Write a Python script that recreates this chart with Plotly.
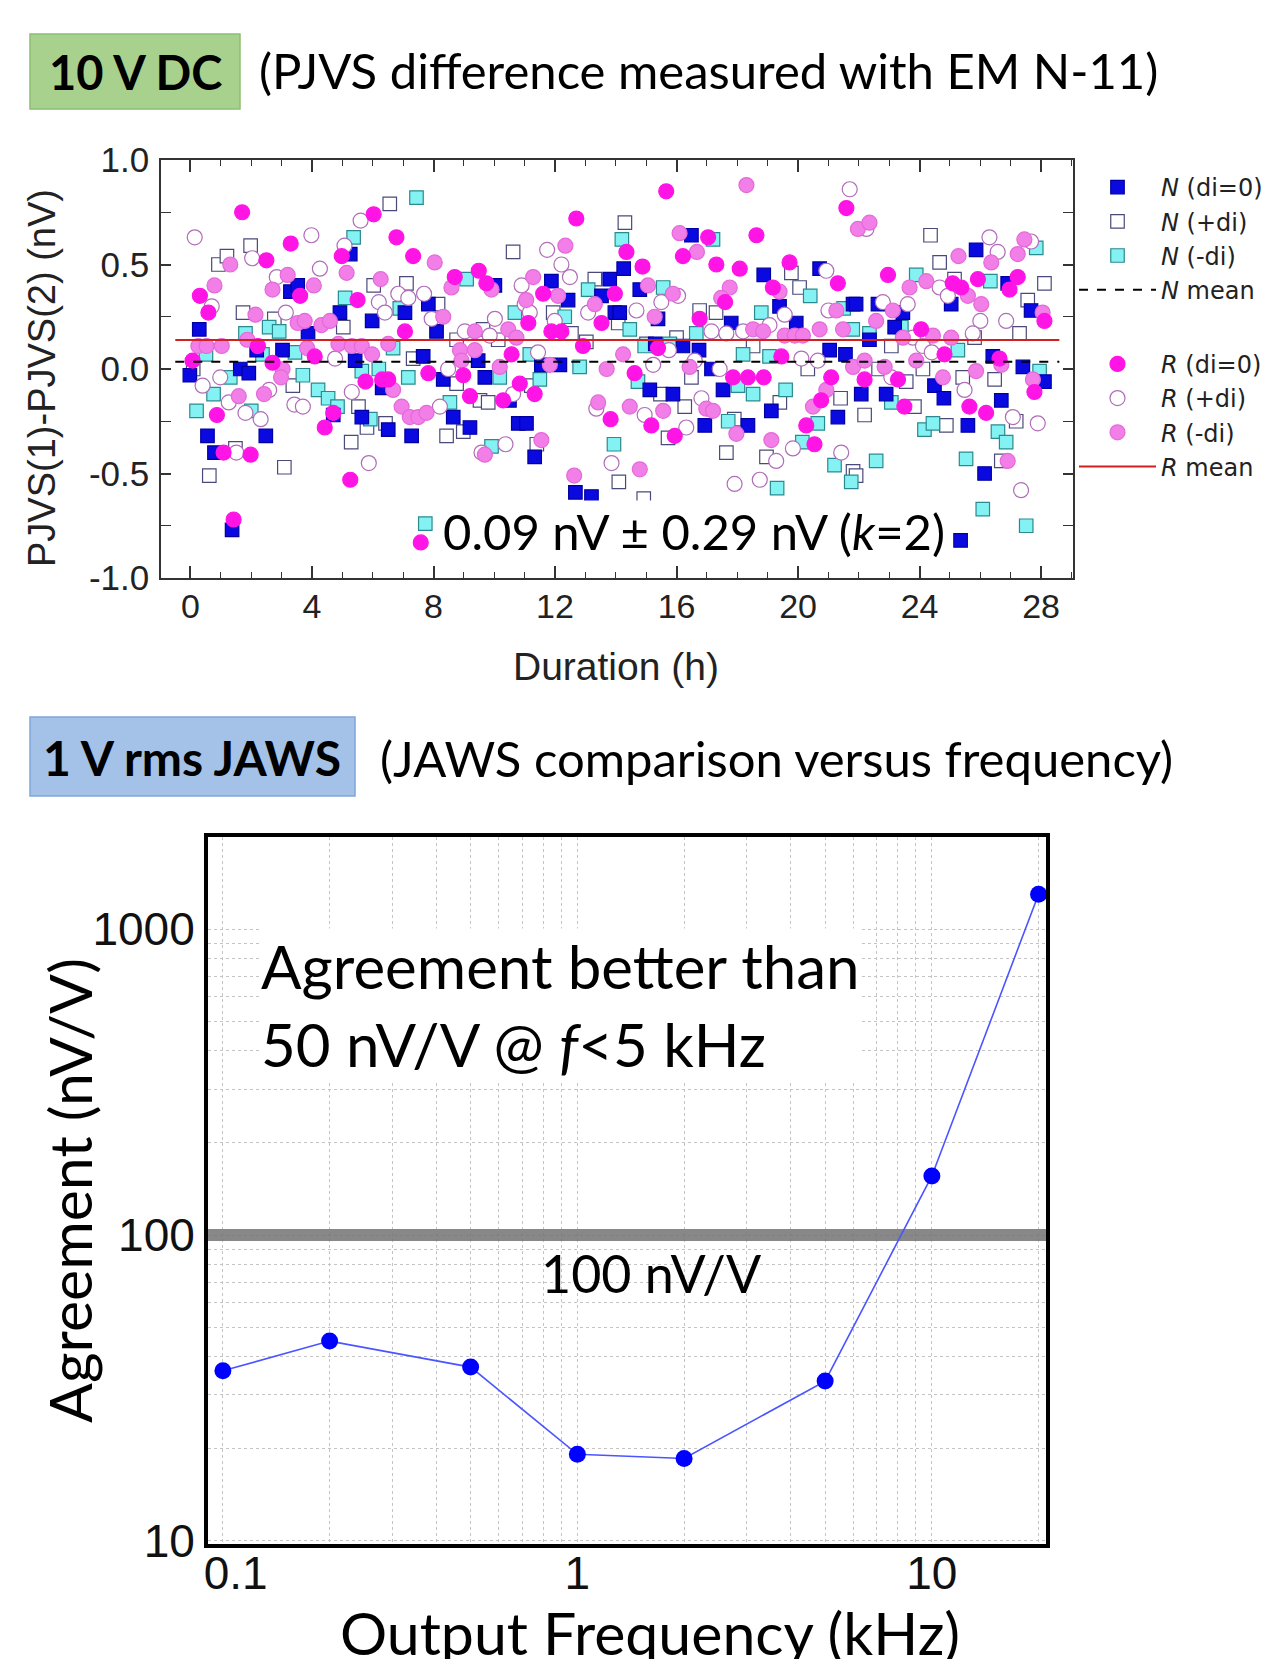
import plotly.graph_objects as go

W, H = 1269, 1659

# ---------------- Top chart data (Duration h, difference nV) ----------------
N0_X = [0.29, 3.29, 3.53, 3.87, 4.92, 5.98, 5.26, 2.18, 3.03, -0.02, 1.64, 1.92, 5.42, 6.31, 4.7, 5.64, 0.56, 0.79, 2.48, 1.37,
        11.88, 7.83, 7.06, 8.1, 12.43, 10.02, 7.66, 9.47, 8.32, 9.69, 11.55, 12.16, 8.65, 6.51, 7.28, 9.2, 10.79, 11.06, 11.33, 12.67, 13.2, 13.8, 13.53, 13.97, 10.5,
        16.49, 14.26, 18.87, 20.71, 14.79, 14.13, 19.39, 15.39, 17.8, 19.94, 21.81, 16.21, 16.74, 21.04, 21.56, 17.15, 17.53, 15.12, 15.88, 19.12, 16.93, 18.35, 21.31, 15.3,
        25.86, 26.9, 21.91, 22.63, 25.04, 23.45, 23.18, 27.67, 22.35, 26.41, 27.4, 28.11, 24.49, 22.08, 22.9, 24.8, 26.69, 25.59, 26.14, 25.35]
N0_Y = [0.19, 0.37, 0.40, 0.17, 0.27, 0.23, 0.55, 0.09, 0.09, -0.03, 0.0, -0.02, 0.04, -0.09, -0.22, -0.23, -0.32, -0.40, -0.32, -0.77,
        0.42, 0.31, 0.27, 0.18, 0.33, 0.40, 0.06, 0.04, -0.05, -0.04, 0.02, 0.02, -0.23, -0.29, -0.32, -0.28, -0.26, -0.26, -0.42, -0.59, -0.61, 0.43, 0.35, 0.27, -0.15,
        0.64, 0.48, 0.45, 0.48, 0.38, 0.27, 0.30, 0.24, 0.22, 0.22, 0.31, 0.11, 0.09, 0.09, 0.07, 0.0, -0.10, -0.10, -0.12, -0.20, -0.27, -0.27, -0.23, 0.12,
        0.57, 0.41, 0.31, 0.31, 0.31, 0.27, 0.20, 0.28, 0.14, 0.06, 0.01, -0.06, -0.08, -0.12, -0.12, -0.14, -0.15, -0.27, -0.50, -0.82]

NP_X = [0.92, 1.2, 1.98, 6.03, 1.73, 2.76, 5.03, 0.09, 3.37, 5.53, 6.42, 5.81, 1.48, 0.62, 3.09, 5.29,
        6.56, 10.62, 7.11, 8.15, 11.94, 9.63, 10.13, 8.76, 12.54, 13.03, 7.33, 8.76, 11.22, 9.53, 9.8, 8.43, 8.98, 11.4, 14.1, 14.08, 14.3, 13.31,
        19.78, 20.05, 16.76, 15.01, 16.0, 18.52, 20.32, 16.49, 15.47, 16.27, 15.72, 17.64, 18.96, 21.81, 14.92, 17.9, 19.4, 21.4, 17.3,
        24.36, 24.66, 25.15, 28.11, 27.56, 23.07, 25.81, 27.29, 22.65, 23.56, 24.11, 25.42, 26.47, 23.83, 22.19, 27.18, 24.88, 26.69, 21.91]
NP_Y = [0.50, 0.54, 0.59, 0.40, 0.27, 0.24, 0.20, 0.0, -0.08, -0.18, -0.26, -0.28, -0.38, -0.51, -0.47, -0.35,
        0.79, 0.56, 0.41, 0.31, 0.27, 0.19, 0.14, 0.14, 0.17, 0.13, 0.05, -0.07, -0.08, -0.15, -0.16, -0.32, -0.30, -0.36, -0.54, 0.22, 0.70, 0.43,
        0.46, 0.39, 0.28, 0.12, 0.15, 0.11, 0.0, -0.04, -0.12, -0.18, -0.33, -0.40, -0.42, -0.49, -0.62, -0.24, -0.16, -0.14, 0.27,
        0.64, 0.51, 0.43, 0.41, 0.33, 0.11, 0.15, 0.17, 0.0, -0.06, 0.0, -0.04, -0.05, -0.18, -0.22, -0.25, -0.27, -0.44, -0.51]

NM_X = [5.37, 5.09, 2.59, 2.92, 1.81, 0.51, 2.37, 3.44, 1.31, 3.7, 0.76, 4.2, 4.53, 4.84, 5.64, 6.2, 5.92, 0.2, 2.0,
        7.44, 9.09, 6.89, 6.67, 10.68, 12.32, 11.17, 7.17, 10.18, 11.5, 12.81, 8.54, 9.91, 13.94, 14.2, 13.09, 7.73,
        15.56, 20.4, 18.79, 14.46, 16.65, 15.78, 14.95, 18.19, 19.06, 14.73, 18.02, 18.52, 19.59, 17.7, 20.65, 20.14, 21.2, 21.75, 19.31, 21.5, 21.8, 17.2,
        23.89, 26.33, 27.84, 23.4, 25.26, 22.35, 27.95, 23.07, 24.16, 24.44, 26.58, 26.85, 22.57, 25.53, 26.08, 27.51]
NM_Y = [0.63, 0.34, 0.20, 0.18, 0.17, 0.07, 0.07, 0.08, -0.04, -0.03, -0.12, -0.10, -0.14, -0.18, -0.01, 0.0, -0.24, -0.20, -0.20,
        0.82, 0.43, 0.29, 0.10, 0.27, 0.25, 0.07, -0.04, -0.04, -0.05, 0.01, -0.16, -0.37, -0.36, 0.62, 0.38, -0.74,
        0.39, 0.35, 0.27, 0.19, 0.17, 0.12, 0.11, 0.07, 0.06, -0.06, -0.08, -0.12, -0.10, -0.25, -0.26, -0.35, -0.46, -0.54, -0.57, 0.29, 0.19, 0.62,
        0.45, 0.42, 0.58, 0.20, 0.09, 0.17, -0.01, -0.16, -0.29, -0.26, -0.30, -0.35, -0.44, -0.43, -0.67, -0.75]

R0_X = [1.7, 3.3, 2.5, 0.31, 0.59, 3.61, 6.03, 4.98, 5.5, 2.22, 4.09, 0.07, 2.7, 5.76, 6.31, 0.87, 4.7, 4.42, 1.09, 1.98, 5.26, 1.42,
        6.78, 7.33, 9.49, 9.74, 8.7, 12.7, 11.61, 11.12, 11.88, 12.21, 7.06, 10.57, 12.92, 7.83, 8.98, 10.84, 6.51, 9.2, 10.29, 11.33, 13.83, 13.53, 13.97, 7.58,
        15.66, 14.35, 17.04, 16.21, 18.63, 17.31, 18.08, 14.88, 19.72, 21.31, 21.59, 17.6, 19.17, 16.76, 15.39, 19.45, 14.62, 17.86, 18.35, 18.87, 21.09, 20.76, 15.17, 20.27, 15.94, 20.54,
        22.96, 25.92, 27.23, 25.09, 25.37, 26.96, 28.11, 24.05, 24.82, 26.63, 22.19, 23.29, 27.78, 23.5, 25.64, 26.19]
R0_Y = [0.75, 0.60, 0.52, 0.35, 0.27, 0.35, 0.74, 0.54, 0.33, 0.11, 0.06, 0.04, 0.03, -0.06, -0.05, -0.22, -0.21, -0.28, -0.40, -0.41, -0.53, -0.72,
        0.63, 0.54, 0.47, 0.41, 0.44, 0.72, 0.36, 0.22, 0.18, 0.18, 0.18, 0.07, 0.11, -0.02, -0.03, -0.07, -0.05, -0.13, -0.15, -0.12, -0.24, 0.22, 0.36, -0.83,
        0.85, 0.56, 0.63, 0.54, 0.64, 0.50, 0.48, 0.49, 0.51, 0.41, 0.77, 0.32, 0.39, 0.24, 0.10, 0.06, -0.02, -0.04, -0.04, -0.04, -0.04, -0.15, -0.27, -0.27, -0.32, -0.36,
        0.45, 0.43, 0.44, 0.41, 0.39, 0.38, 0.23, 0.19, 0.07, 0.05, -0.05, -0.05, -0.11, -0.18, -0.18, -0.21]

RP_X = [0.14, 2.03, 3.98, 2.84, 4.26, 0.7, 5.6, 5.07, 6.2, 3.14, 6.4, 4.76, 0.4, 0.98, 2.59, 5.31, 1.26, 1.81, 2.31, 3.42, 3.7, 1.51, 5.87,
        11.74, 12.21, 12.49, 10.9, 6.84, 7.17, 7.69, 7.94, 11.0, 11.17, 11.99, 10.02, 9.03, 9.85, 11.44, 8.48, 10.62, 8.21, 9.58, 10.37, 13.36, 13.86, 13.09,
        21.7, 20.93, 16.05, 15.5, 14.68, 19.56, 17.15, 17.64, 18.19, 19.06, 21.0, 15.75, 20.11, 20.65, 15.23, 16.6, 17.42, 16.82, 14.95, 16.32, 19.83, 19.28, 21.42, 17.91, 18.74,
        22.25, 26.3, 27.67, 26.57, 24.66, 24.93, 22.79, 23.61, 26.0, 26.85, 23.78, 24.11, 24.4, 25.75, 23.07, 25.48, 27.07, 27.89, 27.34]
RP_Y = [0.63, 0.53, 0.64, 0.44, 0.48, 0.30, 0.71, 0.59, 0.32, 0.27, 0.27, 0.05, -0.08, -0.04, -0.10, -0.11, -0.16, -0.21, -0.24, -0.17, -0.18, -0.40, -0.45,
        0.57, 0.50, 0.44, 0.40, 0.36, 0.34, 0.36, 0.24, 0.31, 0.27, 0.23, 0.24, 0.18, 0.16, 0.08, 0.0, -0.12, -0.18, -0.40, -0.36, -0.19, -0.45, 0.27,
        0.86, 0.47, 0.35, 0.32, 0.28, 0.26, 0.18, 0.17, 0.18, 0.21, 0.28, 0.09, 0.05, 0.04, 0.02, 0.04, 0.0, -0.14, -0.22, -0.28, -0.38, -0.44, -0.40, -0.55, -0.53,
        0.67, 0.63, 0.61, 0.56, 0.39, 0.35, 0.32, 0.31, 0.23, 0.23, 0.15, 0.11, 0.08, 0.17, -0.04, -0.10, -0.23, -0.26, -0.58]

RM_X = [1.31, 3.2, 0.79, 2.7, 4.06, 5.14, 6.26, 2.14, 3.53, 3.76, 4.31, 4.59, 1.87, 0.26, 0.53, 1.03, 3.84, 4.87, 5.31, 5.64, 5.98, 3.03, 2.98, 1.59, 2.42,
        8.04, 9.91, 8.59, 12.34, 11.28, 8.32, 6.51, 12.1, 9.36, 10.46, 10.73, 8.87, 13.31, 9.36, 8.92, 10.18, 11.83, 6.67, 6.95, 7.22, 7.5, 7.77, 9.69, 11.55, 13.42, 12.63, 13.7, 11.05,
        18.3, 16.1, 16.67, 15.06, 15.88, 17.75, 17.47, 19.39, 15.28, 18.52, 18.85, 19.56, 19.89, 20.16, 20.71, 21.48, 21.26, 14.24, 16.43, 20.93, 20.49, 16.98, 17.2, 14.46, 15.56, 17.97, 19.12, 14.79, 21.81, 21.97,
        22.35, 27.45, 27.23, 25.28, 26.36, 23.67, 24.22, 25.59, 26.03, 23.12, 22.57, 28.05, 24.44, 23.45, 25.04, 26.69, 27.73, 22.19, 22.85, 23.89, 25.86, 24.77, 26.9]
RM_Y = [0.50, 0.45, 0.40, 0.38, 0.40, 0.46, 0.43, 0.26, 0.22, 0.23, 0.21, 0.23, 0.14, 0.11, 0.11, 0.11, 0.10, 0.12, 0.11, 0.11, 0.07, 0.0, -0.04, -0.13, -0.12,
        0.51, 0.38, 0.39, 0.59, 0.44, 0.25, 0.12, 0.35, 0.18, 0.19, 0.15, 0.09, 0.31, 0.09, 0.04, 0.01, 0.02, -0.10, -0.18, -0.23, -0.23, -0.21, -0.41, -0.34, -0.16, -0.51, 0.0, 0.33,
        0.88, 0.65, 0.56, 0.40, 0.36, 0.39, 0.34, 0.37, 0.25, 0.19, 0.18, 0.16, 0.16, 0.16, 0.19, 0.19, 0.28, 0.07, 0.01, -0.10, -0.18, -0.19, -0.20, -0.18, -0.20, -0.31, -0.34, -0.48, 0.01, 0.67,
        0.70, 0.62, 0.55, 0.54, 0.51, 0.39, 0.42, 0.35, 0.31, 0.28, 0.23, 0.27, 0.16, 0.15, 0.15, 0.02, -0.05, 0.04, 0.01, 0.04, -0.01, -0.04, -0.44]

N_MEAN = 0.035
R_MEAN = 0.139
MEAN_SPAN_H = [-0.5, 28.6]

TOP_X_RANGE = [-0.97, 29.05]
TOP_Y_RANGE = [-1.0, 1.0]
TOP_Y_TICKVALS = [-1.0, -0.5, 0.0, 0.5, 1.0]
TOP_Y_TICKTEXT = ["-1.0", "-0.5", "0.0", "0.5", "1.0"]

# ---------------- Bottom chart data ----------------
FREQ_KHZ = [0.1, 0.2, 0.5, 1, 2, 5, 10, 20]
AGREEMENT_NV_V = [36, 45, 37, 19.2, 18.6, 33.3, 156, 1300]
REF_LEVEL = 100
BOT_X_TICKVALS = [0.1, 1, 10]
BOT_X_TICKTEXT = ["\u00a0\u00a00.1", "1", "10"]
BOT_Y_TICKVALS = [10, 100, 1000]
BOT_Y_TICKTEXT = ["10", "100", "1000"]
BOT_X_RANGE_LOG = [-1.042, 1.322]
BOT_Y_RANGE_LOG = [0.99, 3.301]


def px(x):
    return x / W


def py(y):
    return 1 - y / H


fig = go.Figure()

ARIAL = "Liberation Sans, Arial, sans-serif"
CAL = "Lato, Carlito, Calibri, sans-serif"

series = [
    ("np", NP_X, NP_Y, "square", "white", "#4a4a7a", "<i>N</i> (+di)", "N", 2),
    ("nm", NM_X, NM_Y, "square", "#84f2f2", "#2a8a8f", "<i>N</i> (-di)", "N", 3),
    ("n0", N0_X, N0_Y, "square", "#0a0ae0", "#0000a0", "<i>N</i> (di=0)", "N", 1),
    ("rp", RP_X, RP_Y, "circle", "white", "#b06cb8", "<i>R</i> (+di)", "R", 6),
    ("rm", RM_X, RM_Y, "circle", "#f27ee8", "#e46ad8", "<i>R</i> (-di)", "R", 7),
    ("r0", R0_X, R0_Y, "circle", "#ff14e6", "#ff14e6", "<i>R</i> (di=0)", "R", 5),
]
for key, xs, ys, sym, fill, line, name, grp, rank in series:
    fig.add_trace(go.Scatter(
        x=xs, y=ys, mode="markers", name=name, legendgroup=grp, legendrank=rank,
        marker=dict(symbol=sym, size=15 if sym == "circle" else 13.5, color=fill,
                    line=dict(color=line, width=1.2)),
        xaxis="x", yaxis="y"))

fig.add_trace(go.Scatter(
    x=MEAN_SPAN_H, y=[N_MEAN, N_MEAN], mode="lines", name="<i>N</i> mean",
    legendgroup="N", legendrank=4, line=dict(color="black", width=2, dash="dash"),
    xaxis="x", yaxis="y"))
fig.add_trace(go.Scatter(
    x=MEAN_SPAN_H, y=[R_MEAN, R_MEAN], mode="lines", name="<i>R</i> mean",
    legendgroup="R", legendrank=8, line=dict(color="#d02020", width=2),
    xaxis="x", yaxis="y"))

# Bottom chart
ref_x = [10 ** BOT_X_RANGE_LOG[0] * 0.9, 10 ** BOT_X_RANGE_LOG[1] * 1.1]
fig.add_trace(go.Scatter(
    x=ref_x, y=[REF_LEVEL, REF_LEVEL], mode="lines", showlegend=False,
    line=dict(color="rgba(115,115,115,0.85)", width=12), xaxis="x2", yaxis="y2"))
fig.add_trace(go.Scatter(
    x=FREQ_KHZ, y=AGREEMENT_NV_V, mode="lines+markers", showlegend=False,
    line=dict(color="#4a55ff", width=1.6),
    marker=dict(color="#0000ff", size=17), xaxis="x2", yaxis="y2"))

top_axis_common = dict(showline=True, linecolor="#333333", linewidth=1.5, mirror="ticks",
                       ticks="inside", tickwidth=1.5, tickcolor="#333333",
                       showgrid=False, zeroline=False, automargin=False)

bot_grid = dict(showgrid=True, gridcolor="#c4c4c4", griddash="dot", gridwidth=1)

fig.update_layout(
    width=W, height=H, autosize=False,
    margin=dict(l=0, r=0, t=0, b=0, pad=0, autoexpand=False),
    paper_bgcolor="white", plot_bgcolor="white",
    xaxis=dict(domain=[px(161), px(1073)], range=TOP_X_RANGE, anchor="y",
               tick0=0, dtick=4, ticklen=12, ticklabelstandoff=-3,
               tickfont=dict(family=ARIAL, size=34, color="#222222"),
               minor=dict(dtick=1, ticks="inside", ticklen=6, tickwidth=1.2, tickcolor="#333333"),
               **top_axis_common),
    yaxis=dict(domain=[py(578), py(160)], range=TOP_Y_RANGE, anchor="x",
               tickvals=TOP_Y_TICKVALS, ticktext=TOP_Y_TICKTEXT, ticklen=10, ticklabelstandoff=3,
               tickfont=dict(family=ARIAL, size=35, color="#222222"),
               minor=dict(dtick=0.25, ticks="inside", ticklen=10, tickwidth=1.2, tickcolor="#333333"),
               **top_axis_common),
    xaxis2=dict(type="log", domain=[px(208), px(1046)], range=BOT_X_RANGE_LOG, anchor="y2",
                showline=True, linecolor="black", linewidth=4, mirror=True, automargin=False,
                ticks="", tickvals=BOT_X_TICKVALS, ticktext=BOT_X_TICKTEXT,
                ticklabelstandoff=-14,
                tickfont=dict(family=ARIAL, size=46, color="#111111"),
                zeroline=False,
                minor=dict(dtick="D1", **bot_grid), **bot_grid),
    yaxis2=dict(type="log", domain=[py(1544), py(837)], range=BOT_Y_RANGE_LOG, anchor="x2",
                showline=True, linecolor="black", linewidth=4, mirror=True, automargin=False,
                ticks="", tickvals=BOT_Y_TICKVALS, ticktext=BOT_Y_TICKTEXT,
                ticklabelstandoff=0,
                tickfont=dict(family=ARIAL, size=46, color="#111111"),
                zeroline=False,
                minor=dict(dtick="D1", **bot_grid), **bot_grid),
    legend=dict(x=px(1074), y=py(165), xanchor="left", yanchor="top",
                font=dict(family="DejaVu Sans, Liberation Sans, sans-serif", size=24, color="#222222"),
                traceorder="grouped", tracegroupgap=40, itemwidth=77,
                bgcolor="rgba(0,0,0,0)"),
    shapes=[
        dict(type="rect", xref="paper", yref="paper", x0=px(30), x1=px(240), y0=py(109), y1=py(34),
             fillcolor="#a9d18e", line=dict(color="#8cbf70", width=1.5), layer="below"),
        dict(type="rect", xref="paper", yref="paper", x0=px(30), x1=px(355), y0=py(796), y1=py(717),
             fillcolor="#a4c2e8", line=dict(color="#7fa6d8", width=1.5), layer="below"),
    ],
)

ann = [
    dict(text="<b>10 V DC</b>", x=px(135), y=py(72), font=dict(family=CAL, size=47, color="black")),
    dict(text="(PJVS difference measured with EM N-11)", x=px(257), y=py(70), xanchor="left",
         font=dict(family=CAL, size=49, color="black")),
    dict(text="<b>1 V rms JAWS</b>", x=px(192), y=py(758), font=dict(family=CAL, size=48, color="black")),
    dict(text="(JAWS comparison versus frequency)", x=px(378), y=py(758), xanchor="left",
         font=dict(family=CAL, size=49, color="black")),
    dict(text="PJVS(1)-PJVS(2) (nV)", x=px(42), y=py(378), textangle=-90,
         font=dict(family=ARIAL, size=38, color="#222222")),
    dict(text="Duration (h)", x=px(616), y=py(667), font=dict(family=ARIAL, size=39, color="#222222")),
    dict(text="0.09 nV ± 0.29 nV (<i>k</i>=2)", x=px(694), y=py(531), bgcolor="white",
         font=dict(family=CAL, size=49, color="black")),
    dict(text="Agreement (nV/V)", x=px(69), y=py(1191), textangle=-90,
         font=dict(family=CAL, size=59, color="black")),
    dict(text="Output Frequency (kHz)", x=px(650), y=py(1632),
         font=dict(family=CAL, size=59, color="black")),
    dict(text="Agreement better than<br>50 nV/V @ <i>f</i>&lt;5 kHz", x=px(259), y=py(1005),
         xanchor="left", align="left", bgcolor="white",
         font=dict(family=CAL, size=60, color="black")),
    dict(text="100 nV/V", x=px(651), y=py(1273), font=dict(family=CAL, size=52, color="black")),
]
for a in ann:
    a.setdefault("xanchor", "center")
    a.setdefault("yanchor", "middle")
    a.update(xref="paper", yref="paper", showarrow=False)
fig.update_layout(annotations=ann)

fig.write_html("out.html")
